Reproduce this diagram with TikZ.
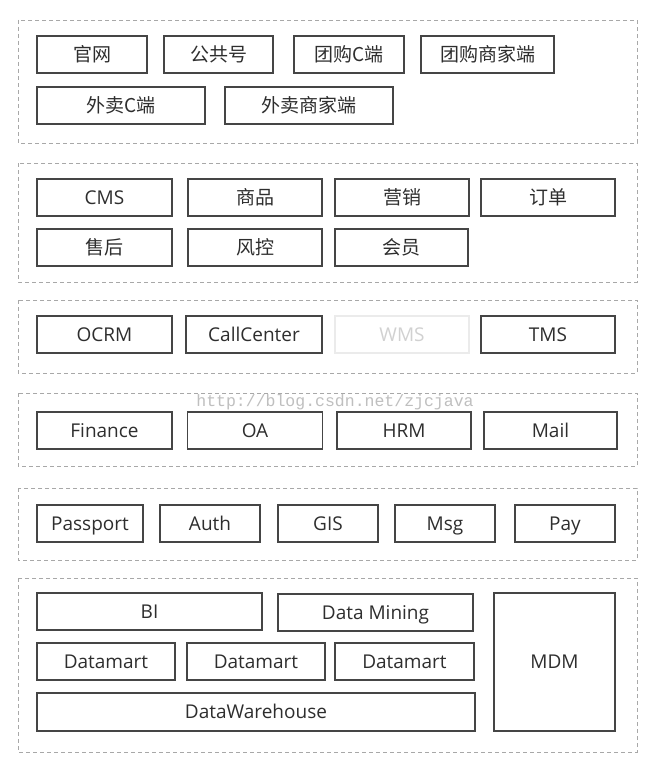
\documentclass[tikz,border=0pt]{standalone}
\usepackage{fontspec}
\setmainfont{Open Sans}
\newfontfamily\cjk{Noto Sans CJK SC}
\newfontfamily\wmfont{Liberation Mono}
\definecolor{boxgray}{HTML}{454545}
\definecolor{textgray}{HTML}{2E2E2E}
\definecolor{dashgray}{HTML}{A8A8A8}

\begin{document}
\begin{tikzpicture}[x=1pt, y=-1pt,
  every node/.style={minimum height=37pt, outer sep=0pt, inner sep=0pt, text height=14pt, text depth=0.4pt, text=textgray, font=\fontsize{19}{22}\selectfont},
  box/.style={draw=boxgray, line width=1.3pt},
  faintbox/.style={draw=black!8, line width=1.3pt, text=black!18},
  layer/.style={draw=dashgray, line width=0.9pt, dash pattern=on 4pt off 3pt}]
\fill[white] (0,0) rectangle (651,784);
\useasboundingbox (0,0) rectangle (651,784);

\draw[layer] (18,20) rectangle (637,143);
\draw[layer] (18,163) rectangle (637,282);
\draw[layer] (18,300) rectangle (637,373);
\draw[layer] (18,393) rectangle (637,466);
\draw[layer] (18,488) rectangle (637,560);
\draw[layer] (18,578) rectangle (637,752);

\node[box, minimum width=110pt] (guanwang) at (92,54.5) {\cjk 官网};
\node[box, minimum width=109pt] (gongzhong) at (218.5,54.5) {\cjk 公共号};
\node[box, minimum width=110pt] (tuangouc) at (349,54.5) {\cjk 团购C端};
\node[box, minimum width=133pt] (tuangoushang) at (487.5,54.5) {\cjk 团购商家端};
\node[box, minimum width=168pt] (waimaic) at (121,105.5) {\cjk 外卖C端};
\node[box, minimum width=168pt] (waimaishang) at (309,105.5) {\cjk 外卖商家端};

\node[box, minimum width=135pt] (cms) at (104.5,197.5) {CMS};
\node[box, minimum width=134pt] (shangpin) at (255,197.5) {\cjk 商品};
\node[box, minimum width=134pt] (yingxiao) at (402,197.5) {\cjk 营销};
\node[box, minimum width=134pt] (dingdan) at (548,197.5) {\cjk 订单};
\node[box, minimum width=135pt] (shouhou) at (104.5,247.5) {\cjk 售后};
\node[box, minimum width=134pt] (fengkong) at (255,247.5) {\cjk 风控};
\node[box, minimum width=133pt] (huiyuan) at (401.5,247.5) {\cjk 会员};

\node[box, minimum width=135pt] (ocrm) at (104.5,334.5) {OCRM};
\node[box, minimum width=136pt] (callcenter) at (254,334.5) {CallCenter};
\node[faintbox, minimum width=134pt] (wms) at (402,334.5) {WMS};
\node[box, minimum width=134pt] (tms) at (548,334.5) {TMS};

\node[box, minimum width=135pt] (finance) at (104.5,430.5) {Finance};
\node[box, minimum width=135pt] (oa) at (255,430.5) {OA};
\node[box, minimum width=134pt] (hrm) at (404,430.5) {HRM};
\node[box, minimum width=133pt] (mail) at (550.5,430.5) {Mail};

\node[box, minimum width=106pt] (passport) at (90,523.5) {Passport};
\node[box, minimum width=100pt] (auth) at (210,523.5) {Auth};
\node[box, minimum width=100pt] (gis) at (328,523.5) {GIS};
\node[box, minimum width=100pt] (msg) at (445,523.5) {Msg};
\node[box, minimum width=100pt] (pay) at (565,523.5) {Pay};

\node[box, minimum width=225pt] (bi) at (149.5,611.5) {BI};
\node[box, minimum width=195pt] (datamining) at (375.5,612.5) {Data Mining};
\node[box, minimum width=138pt] (datamart1) at (106,661.5) {Datamart};
\node[box, minimum width=138pt] (datamart2) at (256,661.5) {Datamart};
\node[box, minimum width=139pt] (datamart3) at (404.5,661.5) {Datamart};
\node[box, minimum width=438pt, minimum height=38pt] (warehouse) at (256,712) {DataWarehouse};
\node[box, minimum width=121pt, minimum height=138pt] (mdm) at (554.5,662) {MDM};

\node[minimum height=0pt, text height=, text depth=, text=black!25, font=\wmfont\fontsize{16.5}{18}\selectfont] (watermark) at (335,402) {http://blog.csdn.net/zjcjava};
\end{tikzpicture}
\end{document}
